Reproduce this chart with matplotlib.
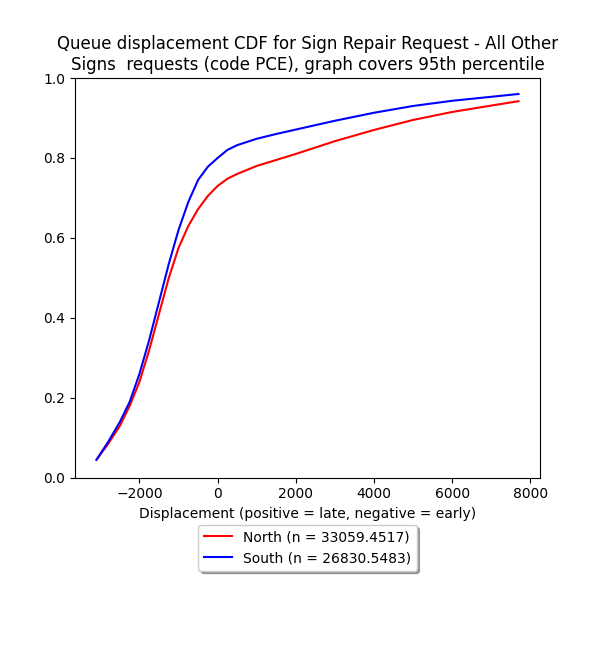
import matplotlib
matplotlib.use("Agg")
import matplotlib.pyplot as plt

north_x = [-3100, -2800, -2500, -2250, -2000, -1750, -1500, -1250, -1000, -750, -500, -250, 0, 250, 500, 1000, 1500, 2000, 3000, 4000, 5000, 6000, 7000, 7700]
north_y = [0.045, 0.085, 0.13, 0.18, 0.24, 0.32, 0.41, 0.50, 0.575, 0.63, 0.672, 0.705, 0.73, 0.748, 0.76, 0.78, 0.795, 0.81, 0.842, 0.87, 0.895, 0.915, 0.931, 0.942]
south_x = north_x
south_y = [0.045, 0.09, 0.14, 0.19, 0.26, 0.345, 0.44, 0.535, 0.62, 0.69, 0.745, 0.778, 0.80, 0.82, 0.832, 0.848, 0.86, 0.871, 0.893, 0.913, 0.93, 0.943, 0.953, 0.96]

fig = plt.figure(figsize=(6, 6.5), dpi=100)
ax = fig.add_axes([0.125, 0.265, 0.775, 0.615])
ax.plot(north_x, north_y, color="red", label="North (n = 33059.4517)")
ax.plot(south_x, south_y, color="blue", label="South (n = 26830.5483)")
ax.set_ylim(0, 1.0)
ax.set_xlim(-3650, 8250)
ax.set_xlabel("Displacement (positive = late, negative = early)")
ax.set_title("Queue displacement CDF for Sign Repair Request - All Other\nSigns  requests (code PCE), graph covers 95th percentile")
ax.legend(loc="upper center", bbox_to_anchor=(0.5, -0.1), shadow=True)
fig.savefig("out.png")
